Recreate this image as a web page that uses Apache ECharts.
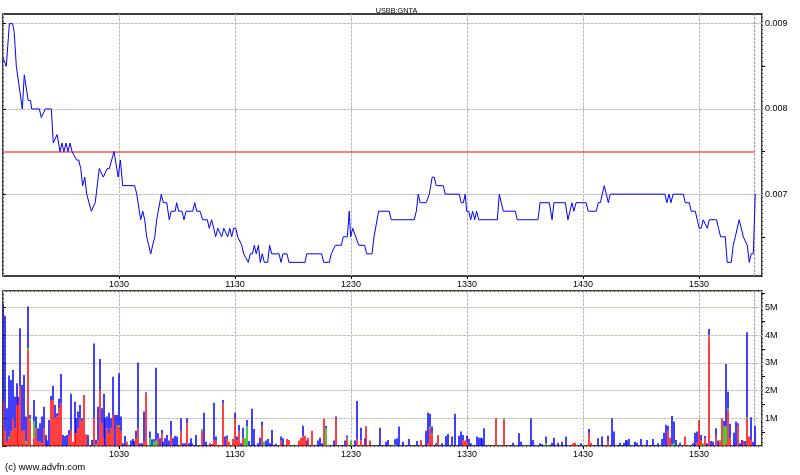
<!DOCTYPE html>
<html>
<head>
<meta charset="utf-8">
<script src="https://cdn.jsdelivr.net/npm/echarts@6/dist/echarts.min.js"></script>
<style>
html,body{margin:0;padding:0;background:#fff;}
#chart{width:800px;height:475px;}
</style>
</head>
<body>
<div id="chart"></div>
<script>
// Title / labels
const chartTitle = 'USBB:GNTA';
const copyright = '(c) www.advfn.com';

// Time axis: minutes since 09:30
const sessionStart = 570;          // 09:30 in minutes of day
const xMax = 392.6;                // right edge of plot in minutes since 09:30
const lastTradeTime = 388.8;       // end-of-data marker
const refPrice = 0.0075;           // red reference line

// Price tick labels
const priceLabels = [0.007, 0.008, 0.009];
const priceMinorTicks = [0.0065, 0.0075, 0.0085];
const priceMin = 0.00604, priceMax = 0.009114;

// Volume axis (millions)
const volMax = 5.59;
const volMinorTicks = [0.5, 1.5, 2.5, 3.5, 4.5, 5.5];

// Price path: [minutes since 09:30, price]
const pricePoints = [[0,0.0086],[1,0.0086],[1.7,0.0085],[3.3,0.0090],[4.1,0.0090],[5,0.0090],[5.8,0.0089],[6.9,0.0085],[7.9,0.0085],[10,0.0080],[11,0.0084],[12,0.0084],[13,0.0081],[14.3,0.0081],[14.8,0.0080],[18.8,0.0080],[19.8,0.0079],[20.8,0.0079],[21.9,0.0080],[25,0.0080],[26,0.0076],[27,0.0076],[28,0.0077],[29.5,0.0075],[30.5,0.0076],[31.5,0.0075],[32.6,0.0076],[33.6,0.0075],[34.7,0.0076],[35.7,0.0075],[36.7,0.0075],[38.1,0.0074],[39.2,0.0074],[40.2,0.0073],[41.2,0.0071],[42.3,0.0072],[43.3,0.0070],[44.3,0.0070],[45.7,0.0068],[46.7,0.0068],[47.7,0.0069],[49.8,0.0073],[50.8,0.0073],[51.9,0.0072],[52.9,0.0072],[53.9,0.0073],[55,0.0073],[57.4,0.0075],[58.4,0.0075],[59.6,0.0072],[60.7,0.0074],[61.9,0.0071],[68.1,0.0071],[69.2,0.0070],[70.2,0.0070],[71.2,0.0067],[72.3,0.0068],[73.3,0.0067],[74.3,0.0065],[75.4,0.0064],[76.4,0.0063],[77.4,0.0063],[78.5,0.0065],[79.5,0.0067],[80.5,0.0067],[81.9,0.0070],[82.9,0.0069],[84.7,0.0069],[86,0.0067],[87,0.0068],[89.1,0.0068],[89.8,0.0069],[90.9,0.0068],[92.6,0.0068],[93.6,0.0067],[94.7,0.0068],[98.1,0.0068],[99.2,0.0069],[100.2,0.0068],[101.9,0.0068],[103.3,0.0067],[105.7,0.0067],[106.7,0.0066],[107.9,0.0067],[109,0.0066],[110,0.0065],[111.1,0.0066],[112.1,0.0066],[113.1,0.0065],[114.2,0.0066],[115.2,0.0066],[116.2,0.0065],[117.3,0.0066],[118.3,0.0065],[119.3,0.0066],[120.4,0.0066],[121.4,0.0065],[122.4,0.0065],[123.5,0.0064],[124.5,0.0063],[125.5,0.0063],[126.9,0.0062],[127.9,0.0063],[129,0.0063],[130,0.0064],[131,0.0063],[132.1,0.0064],[133.1,0.0062],[134.1,0.0063],[135.2,0.0062],[136.9,0.0062],[137.9,0.0064],[139,0.0063],[142.8,0.0063],[143.8,0.0062],[144.8,0.0063],[146.9,0.0063],[147.9,0.0062],[156.2,0.0062],[157.1,0.0063],[164.8,0.0063],[165.9,0.0062],[168.8,0.0062],[169.8,0.0063],[170.8,0.0063],[171.9,0.0064],[175,0.0064],[176,0.0065],[178.1,0.0065],[179.1,0.0068],[179.8,0.0065],[180.9,0.0066],[181.9,0.0066],[184,0.0064],[187.1,0.0064],[188.1,0.0063],[190.9,0.0063],[191.9,0.0065],[192.9,0.0065],[194.3,0.0068],[199.8,0.0068],[200.8,0.0067],[212.7,0.0067],[213.8,0.0068],[214.8,0.0070],[215.8,0.0069],[218.9,0.0069],[220.5,0.0070],[222,0.0072],[223.1,0.0072],[224.1,0.0071],[227.7,0.0071],[228.8,0.0070],[236,0.0070],[237,0.0069],[238.1,0.0069],[239.1,0.0070],[239.8,0.0068],[240.9,0.0068],[241.9,0.0067],[242.9,0.0068],[244,0.0067],[245,0.0068],[246.1,0.0067],[255.7,0.0067],[256.7,0.0070],[257.7,0.0070],[258.8,0.0068],[265,0.0068],[266,0.0067],[276.7,0.0067],[277.8,0.0069],[282.6,0.0069],[284,0.0067],[285,0.0069],[290.9,0.0069],[292.2,0.0067],[293.3,0.0068],[294.3,0.0069],[295.3,0.0068],[296.4,0.0069],[301.6,0.0069],[302.7,0.0068],[306.9,0.0068],[307.9,0.0069],[309,0.0069],[310,0.0070],[311,0.0071],[312.1,0.0070],[313.1,0.0069],[314.1,0.0070],[342.4,0.0070],[343.4,0.0069],[344.5,0.0070],[345.5,0.0069],[346.6,0.0070],[351.9,0.0070],[352.9,0.0069],[355,0.0069],[356,0.0068],[358.1,0.0068],[359.1,0.0067],[360.1,0.0066],[361.2,0.0066],[362.2,0.0067],[363.2,0.0067],[364.3,0.0066],[365.3,0.0067],[369.1,0.0067],[370.1,0.0066],[371.2,0.0065],[373.6,0.0065],[374.6,0.0062],[376.7,0.0062],[377.7,0.0064],[378.8,0.0065],[380.8,0.0067],[381.9,0.0066],[382.9,0.0065],[383.9,0.0065],[385,0.0064],[386,0.0062],[387,0.0063],[388.1,0.0063],[389.1,0.0070]];

// Volume (millions) per minute since 09:30: [minute, volume]
const volRed = [[0,1.6],[1,0.55],[2,0.15],[3,0.28],[4,0.52],[5,1.0],[6,0.64],[7,1.48],[8,1.48],[9,2.14],[10,0.52],[11,0.58],[12,0.1],[13,3.47],[14,0.9],[16,0.3],[17,0.64],[18,0.15],[19,0.15],[20,0.1],[21,0.64],[25,1.66],[26,1.66],[27,1.0],[28,1.06],[29,1.36],[30,1.54],[34,0.4],[35,0.58],[36,0.15],[37,0.46],[38,0.46],[39,0.64],[40,1.0],[41,0.88],[42,1.84],[43,0.42],[47,1.0],[49,0.2],[50,2.0],[51,0.82],[52,0.28],[54,0.64],[55,0.46],[56,0.64],[57,1.12],[59,0.76],[60,0.7],[61,0.52],[64,0.15],[69,0.28],[70,0.64],[73,0.15],[74,1.88],[80,0.28],[82,0.46],[87,0.4],[92,0.52],[95,0.82],[103,0.55],[107,0.1],[109,0.22],[110,0.22],[114,1.54],[116,0.28],[117,0.15],[119,0.25],[120,1.0],[121,0.22],[122,0.52],[124,0.28],[134,0.7],[144,0.22],[147,0.25],[148,0.22],[153,0.2],[154,0.3],[155,0.34],[156,0.37],[158,0.3],[160,0.55],[166,0.98],[172,1.0],[178,0.25],[183,0.25],[185,0.2],[188,0.7],[190,0.2],[216,0.22],[220,0.1],[221,0.64],[222,0.4],[225,0.4],[238,0.22],[239,0.2],[240,0.15],[255,1.0],[259,0.94],[295,0.1],[296,0.12],[303,0.46],[304,0.12],[313,0.18],[344,0.55],[345,0.3],[353,0.34],[359,0.12],[360,0.94],[361,0.22],[363,0.28],[365,3.95],[369,0.37],[371,0.15],[372,1.0],[374,0.1],[375,1.3],[376,0.28],[380,0.76],[383,0.18],[385,1.0],[386,0.34],[387,0.22]];
const volGreen = [[3,0.05],[12,0.08],[13,0.06],[14,0.1],[16,0.6],[48,0.05],[60,0.06],[76,0.28],[78,0.15],[79,0.2],[103,0.06],[125,0.28],[126,0.7],[135,0.15],[167,0.64],[178,0.05],[180,0.2],[203,0.05],[221,0.05],[222,0.05],[259,0.06],[281,0.1],[346,0.05],[347,0.12],[362,0.1],[365,0.05],[371,0.07],[373,0.7],[374,0.6],[375,0.05],[385,0.05]];
const volBlue = [[0,3.53],[1,4.15],[2,1.21],[3,2.21],[4,1.86],[5,1.74],[6,1.14],[7,0.78],[8,0.3],[9,2.11],[10,1.68],[11,1.98],[12,0.88],[13,1.5],[14,0.12],[16,0.76],[17,0.42],[18,0.49],[19,0.67],[20,0.96],[21,0.78],[22,0.4],[23,0.2],[24,0.94],[25,0.14],[26,0.51],[27,0.48],[28,0.12],[29,0.34],[30,1.06],[31,0.4],[32,0.36],[33,0.4],[34,0.18],[35,1.3],[37,1.14],[38,0.54],[39,0.6],[40,0.48],[41,0.12],[44,0.4],[46,0.22],[47,2.7],[48,0.17],[49,1.22],[50,1.14],[51,0.54],[52,1.6],[53,1.02],[54,0.42],[55,0.74],[56,0.36],[57,1.38],[58,1.12],[59,0.36],[60,1.86],[61,0.54],[62,0.1],[63,0.36],[66,0.2],[67,0.25],[68,0.18],[69,0.27],[70,2.36],[71,0.1],[72,0.1],[73,1.09],[74,0.06],[76,0.24],[77,0.24],[78,0.09],[79,2.62],[80,0.18],[81,0.28],[82,0.12],[83,0.15],[84,0.28],[85,0.4],[86,0.2],[87,0.5],[88,0.28],[89,0.36],[90,0.34],[92,0.48],[93,0.1],[94,0.1],[95,0.18],[96,0.1],[97,0.28],[98,0.1],[100,0.4],[104,1.2],[105,0.15],[108,0.06],[109,1.34],[110,0.12],[114,0.12],[115,0.34],[116,0.1],[120,0.2],[121,0.12],[122,0.24],[123,0.1],[124,0.38],[126,0.24],[127,0.18],[129,1.34],[130,0.61],[132,0.1],[133,0.3],[134,0.18],[136,0.2],[137,0.25],[138,0.1],[139,0.58],[141,0.08],[144,0.12],[145,0.28],[155,0.39],[157,0.2],[163,0.2],[164,0.3],[165,0.1],[167,0.08],[171,0.2],[172,0.06],[177,0.2],[178,0.08],[182,0.2],[183,1.37],[185,0.46],[187,0.28],[188,0.02],[195,0.66],[198,0.15],[199,0.22],[203,0.19],[204,0.28],[205,0.7],[207,0.15],[210,0.25],[214,0.18],[219,0.55],[220,1.1],[221,0.47],[222,0.25],[224,0.1],[227,0.1],[229,0.36],[230,0.43],[232,0.34],[234,1.16],[236,0.37],[237,0.52],[238,0.18],[240,0.22],[241,0.25],[242,0.1],[245,0.34],[246,0.3],[247,0.3],[248,0.28],[249,0.64],[264,0.12],[267,0.46],[268,0.15],[273,1.0],[274,0.22],[278,0.1],[279,0.06],[281,0.24],[284,0.12],[285,0.3],[287,0.12],[289,0.15],[291,0.34],[299,0.1],[303,0.15],[308,0.28],[310,0.34],[313,0.19],[315,1.0],[316,0.52],[319,0.12],[321,0.12],[322,0.22],[323,0.2],[324,0.25],[327,0.15],[328,0.12],[330,0.25],[333,0.22],[336,0.25],[339,0.1],[341,0.25],[342,0.48],[343,0.76],[344,0.17],[346,1.03],[347,0.76],[348,0.22],[350,0.12],[357,0.1],[358,0.48],[359,0.4],[361,0.18],[363,0.08],[364,0.1],[365,0.22],[366,0.18],[367,0.15],[369,0.27],[370,0.2],[373,0.2],[374,2.26],[375,0.61],[376,0.52],[378,0.48],[379,0.88],[380,0.06],[381,0.1],[382,0.22],[384,0.18],[385,3.05],[387,0.82],[388,0.15],[389,0.72]];

// Combine into rows [minute, red, green, blue] for a stacked (red bottom, green middle, blue top) bar
const volTimes = Array.from(new Set([].concat(volRed, volGreen, volBlue).map(d => d[0]))).sort((a, b) => a - b);
const redMap = new Map(volRed), greenMap = new Map(volGreen), blueMap = new Map(volBlue);
const volRows = volTimes.map(t => [t, redMap.get(t) || 0, greenMap.get(t) || 0, blueMap.get(t) || 0]);

const FONT = "'Liberation Sans', Arial, sans-serif";
const GRID_COLOR = '#b8b8b8';
const VOL_COLORS = ['#ff0000', '#00c000', '#0000ff'];

function timeLabel(v) {
  if (v <= 0 || Math.abs(v % 60) > 1e-6) return '';
  const tot = sessionStart + v;
  return String(Math.floor(tot / 60)) + String(tot % 60).padStart(2, '0');
}

function xAxisFor(gi) {
  return {
    type: 'value', gridIndex: gi, min: 0, max: xMax, interval: 60,
    axisLine: { show: false },
    axisTick: { show: true, length: 3, lineStyle: { color: '#000' } },
    axisLabel: { formatter: timeLabel, fontSize: 9, color: '#000', fontFamily: FONT, margin: 4, showMaxLabel: false, showMinLabel: false },
    splitLine: { show: true, lineStyle: { color: GRID_COLOR, width: 1, type: [3, 1] } }
  };
}

function renderVolume(params, api) {
  const t = api.value(0);
  const parts = [api.value(1), api.value(2), api.value(3)];
  const base = api.coord([t, 0]);
  const w = 1.5;
  const x0 = Math.round(base[0]) - 0.75;
  const children = [];
  let cum = 0;
  for (let i = 0; i < 3; i++) {
    const v = parts[i];
    if (v > 0) {
      const yLow = api.coord([t, cum])[1];
      const yHigh = api.coord([t, cum + v])[1];
      children.push({
        type: 'rect',
        shape: { x: x0, y: yHigh, width: w, height: yLow - yHigh },
        style: { fill: VOL_COLORS[i] }
      });
      cum += v;
    }
  }
  return { type: 'group', children: children };
}

// Reference line drawn as a thin rectangle through the axis scales (crisp red)
function renderRefLine(params, api) {
  const p0 = api.coord([api.value(0), api.value(2)]);
  const p1 = api.coord([api.value(1), api.value(2)]);
  const y = Math.round(p0[1]) - 0.5;
  return {
    type: 'rect',
    shape: { x: p0[0], y: y, width: p1[0] - p0[0], height: 1 },
    style: { fill: '#ff0000' }
  };
}

const chart = echarts.init(document.getElementById('chart'), null, { renderer: 'canvas' });

const option = {
  animation: false,
  backgroundColor: '#fff',
  grid: [
    { left: 3, right: 38, top: 14, height: 262, show: true, borderColor: '#000', borderWidth: 1.5, backgroundColor: 'transparent' },
    { left: 3, right: 38, top: 291, height: 155, show: true, borderColor: '#000', borderWidth: 1.5, backgroundColor: 'transparent' }
  ],
  xAxis: [xAxisFor(0), xAxisFor(1)],
  yAxis: [
    {
      type: 'value', gridIndex: 0, position: 'right', min: priceMin, max: priceMax,
      axisLine: { show: false },
      axisTick: { show: true, length: 3, customValues: priceLabels, lineStyle: { color: '#000' } },
      axisLabel: { customValues: priceLabels, formatter: v => v.toFixed(3), fontSize: 9, color: '#000', fontFamily: FONT, margin: 3 },
      splitLine: { show: true, lineStyle: { color: GRID_COLOR, width: 1, type: [3, 1] } }
    },
    {
      type: 'value', gridIndex: 0, position: 'right', min: priceMin, max: priceMax,
      axisLine: { show: false },
      axisTick: { show: true, length: 3, customValues: priceMinorTicks, lineStyle: { color: '#000' } },
      axisLabel: { show: false },
      splitLine: { show: false }
    },
    {
      type: 'value', gridIndex: 1, position: 'right', min: 0, max: volMax, interval: 1,
      axisLine: { show: false },
      axisTick: { show: true, length: 3, lineStyle: { color: '#000' } },
      axisLabel: {
        formatter: v => (v > 0 && Math.abs(v - Math.round(v)) < 1e-6 && v <= 5) ? (Math.round(v) + 'M') : '',
        fontSize: 9, color: '#000', fontFamily: FONT, margin: 3, showMaxLabel: false
      },
      splitLine: { show: true, lineStyle: { color: '#c0c0a8', width: 1, type: [3, 1] } }
    },
    {
      type: 'value', gridIndex: 1, position: 'right', min: 0, max: volMax,
      axisLine: { show: false },
      axisTick: { show: true, length: 3, customValues: volMinorTicks, lineStyle: { color: '#000' } },
      axisLabel: { show: false },
      splitLine: { show: false }
    }
  ],
  series: [
    // end-of-session marker (top panel)
    {
      type: 'line', xAxisIndex: 0, yAxisIndex: 0, symbol: 'none', silent: true, z: 1,
      data: [[lastTradeTime, priceMin], [lastTradeTime, priceMax]],
      lineStyle: { color: '#999999', width: 1, type: [3, 1] }
    },
    // reference price line (red)
    {
      type: 'custom', xAxisIndex: 0, yAxisIndex: 0, silent: true, z: 4, clip: true,
      data: [[0, lastTradeTime, refPrice]],
      encode: { x: [0, 1], y: 2 },
      renderItem: renderRefLine
    },
    // price
    {
      type: 'line', xAxisIndex: 0, yAxisIndex: 0, data: pricePoints,
      symbol: 'none', color: '#0000ff', lineStyle: { color: '#0000ff', width: 1 }, z: 5
    },
    // end-of-session marker (volume panel)
    {
      type: 'line', xAxisIndex: 1, yAxisIndex: 2, symbol: 'none', silent: true, z: 1,
      data: [[lastTradeTime, 0], [lastTradeTime, volMax]],
      lineStyle: { color: '#999999', width: 1, type: [3, 1] }
    },
    // volume bars: red / green / blue stacked
    {
      type: 'custom', xAxisIndex: 1, yAxisIndex: 2, clip: true, silent: true, z: 3,
      data: volRows,
      encode: { x: 0, y: 3 },
      renderItem: renderVolume
    }
  ],
  graphic: [
    { type: 'text', x: 396.5, y: 10.5, style: { text: chartTitle, fill: '#000', font: '7.3px ' + FONT, textAlign: 'center', textVerticalAlign: 'middle' } },
    { type: 'text', x: 5, y: 467.7, style: { text: copyright, fill: '#000', font: '9.5px ' + FONT, textAlign: 'left', textVerticalAlign: 'middle' } }
  ]
};

chart.setOption(option);
</script>
</body>
</html>
